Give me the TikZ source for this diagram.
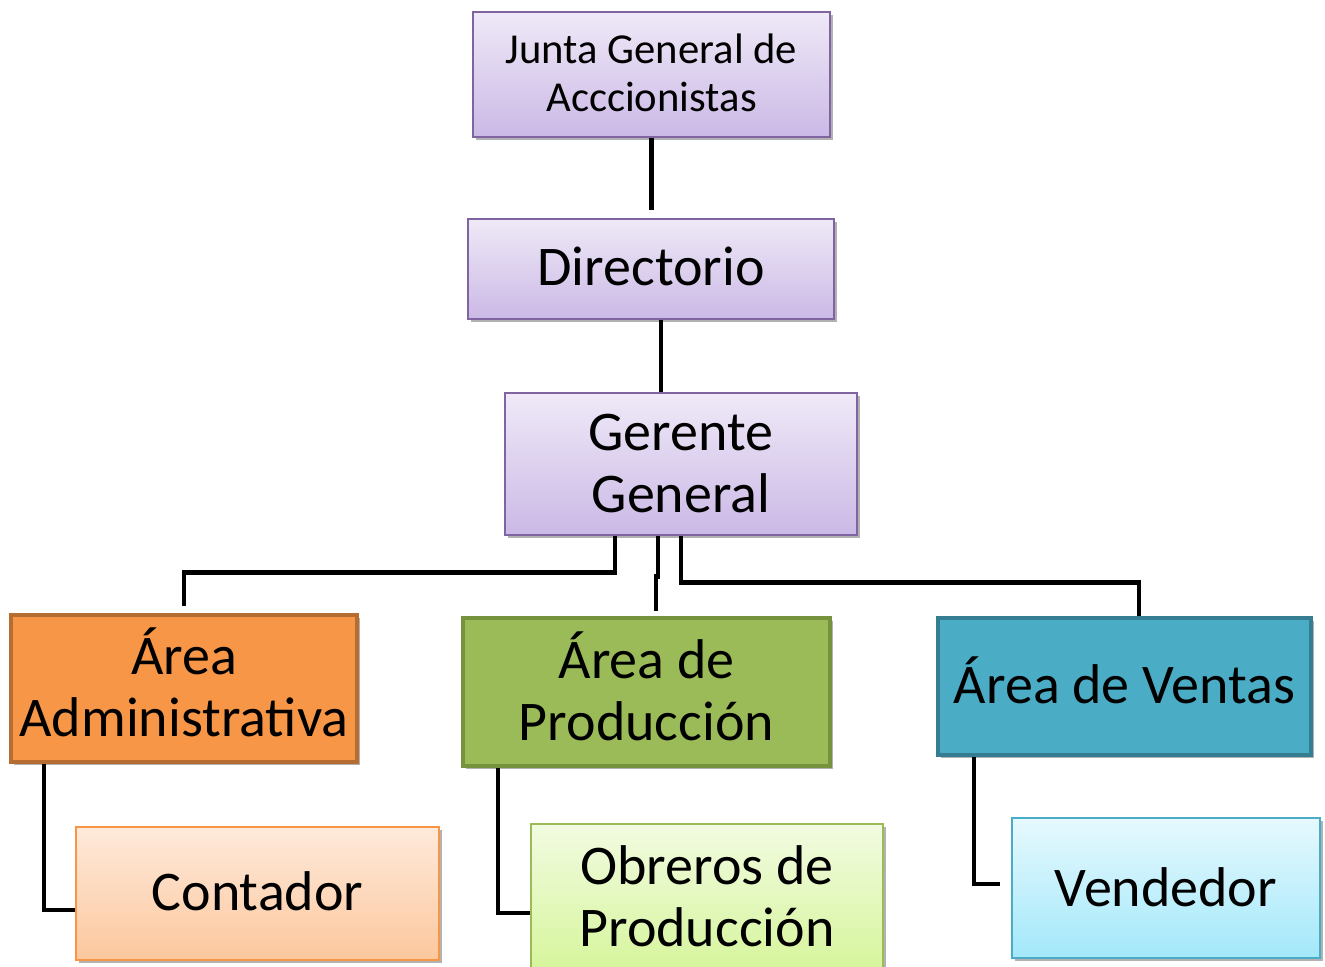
\documentclass[tikz,border=0pt]{standalone}
\usepackage{fontspec}
\setmainfont{Carlito}
\usetikzlibrary{shadows,calc}
\definecolor{purpB}{HTML}{8064A2}
\definecolor{purpT}{HTML}{EFE9F7}
\definecolor{purpD}{HTML}{CBB9E6}
\definecolor{orgF}{HTML}{F79646}
\definecolor{orgB}{HTML}{B66D31}
\definecolor{grnF}{HTML}{9BBB59}
\definecolor{grnB}{HTML}{76923C}
\definecolor{bluF}{HTML}{4BACC6}
\definecolor{bluB}{HTML}{357D91}
\definecolor{orgLT}{HTML}{FEEADB}
\definecolor{orgLD}{HTML}{FCC79D}
\definecolor{grnLT}{HTML}{F2FBE1}
\definecolor{grnLD}{HTML}{D6F59C}
\definecolor{bluLT}{HTML}{E6F9FE}
\definecolor{bluLD}{HTML}{A3E8FA}
\newcommand\lift[1]{\rule[-#1]{0pt}{0pt}}
\tikzset{
  basebox/.style={rectangle, inner sep=0pt, align=center, font=\fontsize{42}{46.5}\selectfont,
    drop shadow={shadow xshift=2pt, shadow yshift=-2.5pt, opacity=0.3, fill=black}},
  purpbox/.style={basebox, draw=purpB, line width=1.3pt, top color=purpT, bottom color=purpD},
  orgbox/.style={basebox, draw=orgB, line width=3pt, fill=orgF},
  grnbox/.style={basebox, draw=grnB, line width=3pt, fill=grnF},
  blubox/.style={basebox, draw=bluB, line width=3pt, fill=bluF},
  orglbox/.style={basebox, draw=orgF, line width=1.3pt, top color=orgLT, bottom color=orgLD},
  grnlbox/.style={basebox, draw=grnF, line width=1.3pt, top color=grnLT, bottom color=grnLD},
  blulbox/.style={basebox, draw=bluF, line width=1.3pt, top color=bluLT, bottom color=bluLD},
  conn/.style={draw=black, line width=3.6pt}
}
\begin{document}
\begin{tikzpicture}[x=0.75pt,y=-0.75pt]
\useasboundingbox (0,0) rectangle (1325,967);
\node[purpbox, minimum width=267.75pt, minimum height=93.75pt, font=\fontsize{32}{36}\selectfont] (j) at (651.5,74.5) {Junta General de\\Acccionistas\lift{3pt}};
\node[purpbox, minimum width=274.5pt, minimum height=75pt] (d) at (651,269) {Directorio\lift{4.5pt}};
\node[purpbox, minimum width=264pt, minimum height=106.5pt] (g) at (681,464) {Gerente\\General};
\node[orgbox, minimum width=259.5pt, minimum height=110.25pt] (a) at (184,688.5) {Área\\Administrativa\lift{9pt}};
\node[grnbox, minimum width=275.25pt, minimum height=111pt] (p) at (646.5,692) {Área de\\Producción\lift{9pt}};
\node[blubox, minimum width=279.75pt, minimum height=102.75pt] (v) at (1124.5,686.5) {Área de Ventas\lift{9pt}};
\node[orglbox, minimum width=272.25pt, minimum height=99.75pt] (c) at (257.5,893.5) {Contador\lift{3pt}};
\node[grnlbox, minimum width=264pt, minimum height=109.5pt] (o) at (707,897) {Obreros de\\Producción\lift{2pt}};
\node[blulbox, minimum width=231pt, minimum height=105pt] (vd) at (1166,888) {Vendedor\lift{1.5pt}};

\draw[conn] (j.south) -- ([yshift=6pt]j.south |- d.north);
\draw[conn] ([xshift=7.5pt]d.south) -- ([xshift=7.5pt]d.south |- g.north);
\draw[conn] ([xshift=-49.5pt]g.south) -- ++(0,37) -| ([yshift=5pt]a.north);
\draw[conn] ([xshift=-17.25pt]g.south) -- ++(0,41) -| ([xshift=7.1pt,yshift=4pt]p.north);
\draw[conn] (g.south) -- ++(0,47) -| ([xshift=10.9pt]v.north);
\draw[conn] ([xshift=26.25pt]a.south west) |- ([yshift=-12.4pt]c.west);
\draw[conn] ([xshift=27.75pt]p.south west) |- ([yshift=-12pt]o.west);
\draw[conn] ([xshift=28.5pt]v.south west) |- ([xshift=-8pt,yshift=3pt]vd.west);
\end{tikzpicture}
\end{document}
